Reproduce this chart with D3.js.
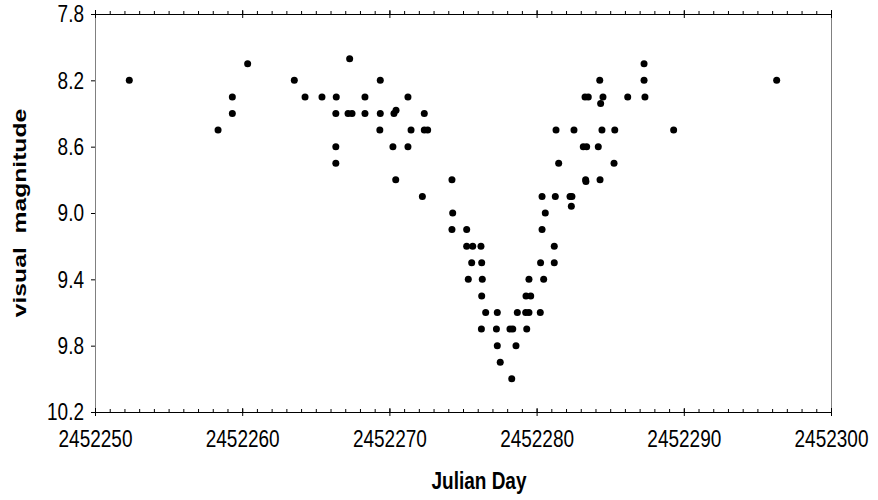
<!DOCTYPE html>
<html>
<head>
<meta charset="utf-8">
<script src="https://cdn.jsdelivr.net/npm/d3@7"></script>
<style>
  body { margin: 0; background: #fff; }
  text { font-family: "Liberation Sans", Arial, sans-serif; }
  .axis-title { font-size: 19px; font-weight: bold; fill: #000; }
</style>
</head>
<body>
<div id="scatter"></div>
<script>
var svgWidth = 878;
var svgHeight = 500;

var margin = {
  top: 14,
  right: 47,
  bottom: 88,
  left: 95
};

var width = svgWidth - margin.left - margin.right;
var height = svgHeight - margin.top - margin.bottom;

// the text in the picture is stretched upright by about this much
var stretch = 1.3;

// observations: Julian Day and visual magnitude
var julianDay = [
  2452252.33, 2452258.36, 2452259.33, 2452259.33, 2452260.37,
  2452263.54, 2452264.27, 2452265.42, 2452266.39, 2452266.36,
  2452266.36, 2452266.36, 2452267.30, 2452267.19, 2452267.46,
  2452268.34, 2452268.34, 2452269.38, 2452269.38, 2452269.35,
  2452270.31, 2452270.45, 2452270.24, 2452270.43, 2452271.26,
  2452271.47, 2452271.26, 2452272.37, 2452272.37, 2452272.60,
  2452272.24, 2452274.25, 2452274.30, 2452274.25, 2452275.25,
  2452275.25, 2452275.66, 2452276.22, 2452275.59, 2452276.27,
  2452275.36, 2452276.31, 2452276.27, 2452276.54, 2452277.33,
  2452276.25, 2452277.27, 2452277.33, 2452277.53, 2452278.19,
  2452278.38, 2452278.31, 2452278.60, 2452278.69, 2452279.26,
  2452279.48, 2452279.33, 2452279.28, 2452279.60, 2452279.48,
  2452280.25, 2452280.27, 2452280.48, 2452280.37, 2452280.59,
  2452280.37, 2452281.20, 2452281.20, 2452281.27, 2452281.32,
  2452281.50, 2452282.27, 2452282.40, 2452282.36, 2452282.54,
  2452283.17, 2452283.40, 2452283.33, 2452283.35, 2452283.29,
  2452283.51, 2452284.19, 2452284.29, 2452284.51, 2452284.35,
  2452284.44, 2452284.31, 2452285.31, 2452285.26, 2452286.19,
  2452287.30, 2452287.30, 2452287.36, 2452289.31, 2452296.31
];

var magnitude = [
  8.2, 8.5, 8.3, 8.4, 8.1,
  8.2, 8.3, 8.3, 8.3, 8.4,
  8.6, 8.7, 8.07, 8.4, 8.4,
  8.3, 8.4, 8.2, 8.4, 8.5,
  8.4, 8.38, 8.6, 8.8, 8.3,
  8.5, 8.6, 8.4, 8.5, 8.5,
  8.9, 8.8, 9.0, 9.1, 9.1,
  9.2, 9.2, 9.2, 9.3, 9.3,
  9.4, 9.4, 9.5, 9.6, 9.6,
  9.7, 9.7, 9.8, 9.9, 9.7,
  9.7, 10.0, 9.8, 9.6, 9.6,
  9.6, 9.7, 9.5, 9.5, 9.4,
  9.6, 9.3, 9.4, 9.1, 9.0,
  8.9, 9.2, 9.3, 8.9, 8.5,
  8.7, 8.9, 8.9, 8.96, 8.5,
  8.6, 8.6, 8.8, 8.81, 8.3,
  8.3, 8.6, 8.2, 8.3, 8.34,
  8.5, 8.8, 8.5, 8.7, 8.3,
  8.1, 8.2, 8.3, 8.5, 8.2
];

var xTicks = [2452250, 2452260, 2452270, 2452280, 2452290, 2452300];
var xMinorTicks = d3.range(2452250, 2452301, 1);
var yTicks = [7.8, 8.2, 8.6, 9.0, 9.4, 9.8, 10.2];

var data = julianDay.map(function (d, i) {
  return { jd: d, mag: magnitude[i] };
});

var svg = d3.select("#scatter")
  .append("svg")
  .attr("width", svgWidth)
  .attr("height", svgHeight);

var chart = svg.append("g").attr("transform", `translate(${margin.left}, ${margin.top})`);

var xScale = d3.scaleLinear()
  .domain([2452250, 2452300])
  .range([0, width]);

// magnitude axis runs downward
var yScale = d3.scaleLinear()
  .domain([7.8, 10.2])
  .range([0, height]);

function styleTicks(g, color) {
  g.selectAll(".tick line").attr("stroke", color || "#000");
  g.select(".domain").remove();
}

// left and right frame lines (grey)
chart.append("g")
  .call(d3.axisRight(yScale).tickValues([]).tickSizeOuter(0))
  .attr("transform", `translate(${width}, 0)`)
  .select(".domain").attr("stroke", "#808080");

var leftAxis = chart.append("g")
  .call(d3.axisLeft(yScale)
    .tickValues(yTicks)
    .tickSize(4)
    .tickSizeOuter(0)
    .tickPadding(7)
    .tickFormat(d3.format(".1f")));
leftAxis.select(".domain").attr("stroke", "#808080");
leftAxis.selectAll(".tick line").attr("stroke", "#000");
leftAxis.selectAll("text")
  .attr("font-size", 19)
  .attr("font-family", null)
  .attr("fill", "#000")
  .attr("transform", `scale(1, ${stretch})`);

// top line: minor ticks outward, majors crossing
chart.append("g")
  .call(d3.axisTop(xScale).tickValues(xMinorTicks).tickSize(3).tickSizeOuter(0).tickFormat(""))
  .call(function (g) { g.select(".domain").attr("stroke", "#000"); });
chart.append("g")
  .call(d3.axisTop(xScale).tickValues(xTicks).tickSize(4).tickFormat(""))
  .call(styleTicks);
chart.append("g")
  .call(d3.axisBottom(xScale).tickValues(xTicks).tickSize(4).tickFormat(""))
  .call(styleTicks);

// bottom line: minor ticks inward, majors crossing, labels
chart.append("g")
  .attr("transform", `translate(0, ${height})`)
  .call(d3.axisBottom(xScale).tickValues(xMinorTicks).tickSize(-3).tickSizeOuter(0).tickFormat(""))
  .call(function (g) { g.select(".domain").attr("stroke", "#000"); });
chart.append("g")
  .attr("transform", `translate(0, ${height})`)
  .call(d3.axisTop(xScale).tickValues(xTicks).tickSize(4).tickFormat(""))
  .call(styleTicks);
var bottomAxis = chart.append("g")
  .attr("transform", `translate(0, ${height})`)
  .call(d3.axisBottom(xScale).tickValues(xTicks).tickSize(4).tickFormat(d3.format("d")));
styleTicks(bottomAxis);
bottomAxis.selectAll("text")
  .attr("font-size", 19)
  .attr("font-family", null)
  .attr("fill", "#000")
  .attr("y", 35 / stretch)
  .attr("dy", null)
  .attr("transform", `scale(1, ${stretch})`);

chart.selectAll("circle.obs")
  .data(data)
  .enter()
  .append("circle")
  .classed("obs", true)
  .attr("cx", function (d) { return xScale(d.jd); })
  .attr("cy", function (d) { return yScale(d.mag); })
  .attr("r", 3.5)
  .attr("fill", "#000");

chart.append("g")
  .attr("transform", `translate(384, ${height + 77})`)
  .append("text")
  .classed("axis-title", true)
  .attr("text-anchor", "middle")
  .attr("transform", `scale(1, ${stretch})`)
  .text("Julian Day");

chart.append("g")
  .attr("transform", `translate(${26 - margin.left}, ${height / 2}) rotate(-90)`)
  .append("text")
  .classed("axis-title", true)
  .attr("text-anchor", "middle")
  .attr("transform", `scale(${stretch}, 1)`)
  .style("white-space", "pre")
  .text("visual  magnitude");
</script>
</body>
</html>
